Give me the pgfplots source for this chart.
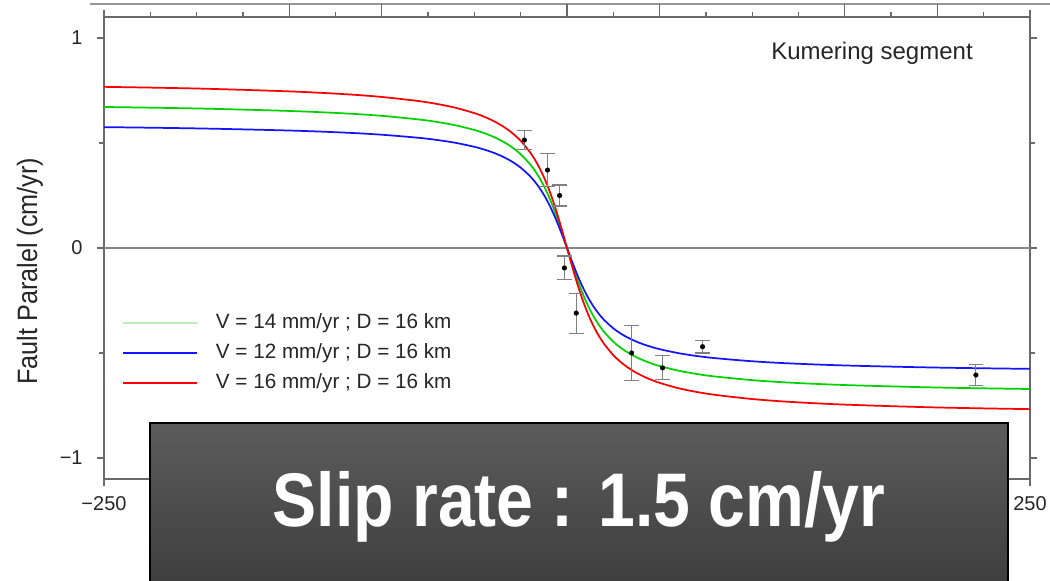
\documentclass[border=0pt]{standalone}
\usepackage{fontspec}
\setmainfont{Liberation Sans}
\usepackage{graphicx}
\usepackage{pgfplots}
\pgfplotsset{compat=1.18}
\usepackage{pgfplotstable}
\definecolor{frame}{RGB}{105,105,105}
\definecolor{cgreen}{RGB}{0,210,0}
\definecolor{cpale}{RGB}{185,240,185}
\definecolor{cblue}{RGB}{20,20,255}
\definecolor{cred}{RGB}{250,0,0}
\definecolor{boxtop}{RGB}{92,92,92}
\definecolor{boxbot}{RGB}{58,58,58}

\pgfplotstableread{
x g b r
-250 0.6715 0.5756 0.7674
-200 0.6644 0.5695 0.7594
-150 0.6526 0.5594 0.7458
-120 0.6409 0.5494 0.7325
-100 0.6293 0.5394 0.7192
-80 0.6120 0.5246 0.6994
-70 0.5999 0.5142 0.6856
-60 0.5839 0.5005 0.6673
-50 0.5620 0.4817 0.6422
-45 0.5478 0.4695 0.6260
-40 0.5305 0.4547 0.6062
-35 0.5089 0.4362 0.5816
-30 0.4817 0.4129 0.5505
-25 0.4463 0.3826 0.5101
-20 0.3994 0.3423 0.4564
-17.5 0.3700 0.3171 0.4228
-15 0.3357 0.2877 0.3836
-12.5 0.2955 0.2533 0.3377
-10 0.2489 0.2134 0.2845
-7.5 0.1954 0.1675 0.2234
-5 0.1350 0.1157 0.1542
-2.5 0.0691 0.0592 0.0790
0 0 0 0
2.5 -0.0691 -0.0592 -0.0790
5 -0.1350 -0.1157 -0.1542
7.5 -0.1954 -0.1675 -0.2234
10 -0.2489 -0.2134 -0.2845
12.5 -0.2955 -0.2533 -0.3377
15 -0.3357 -0.2877 -0.3836
17.5 -0.3700 -0.3171 -0.4228
20 -0.3994 -0.3423 -0.4564
25 -0.4463 -0.3826 -0.5101
30 -0.4817 -0.4129 -0.5505
35 -0.5089 -0.4362 -0.5816
40 -0.5305 -0.4547 -0.6062
45 -0.5478 -0.4695 -0.6260
50 -0.5620 -0.4817 -0.6422
60 -0.5839 -0.5005 -0.6673
70 -0.5999 -0.5142 -0.6856
80 -0.6120 -0.5246 -0.6994
100 -0.6293 -0.5394 -0.7192
120 -0.6409 -0.5494 -0.7325
150 -0.6526 -0.5594 -0.7458
200 -0.6644 -0.5695 -0.7594
250 -0.6715 -0.5756 -0.7674
}\curves

\pgfplotstableread{
x y e
-23 0.514 0.045
-10.5 0.371 0.08
-4 0.25 0.05
-1.4 -0.095 0.057
5 -0.31 0.095
34.9 -0.50 0.13
51.6 -0.571 0.057
73.2 -0.47 0.03
220.8 -0.605 0.05
}\obs

\begin{document}
\begin{tikzpicture}[x=1pt,y=1pt]
\clip (0,0) rectangle (787.5,435.75);
\fill[white] (0,0) rectangle (787.5,435.75);
\draw[frame!70, line width=0.9pt] (67.5,432.75) -- (787.5,432.75);
\foreach \px in {216.9,286.35,425.25,494.7,633.6,703.05}{
  \draw[frame, line width=1pt] (\px,423) -- (\px,432.75);
}
\begin{axis}[
  at={(78pt,76.5pt)}, anchor=south west,
  scale only axis, width=694.5pt, height=346.5pt,
  xmin=-250, xmax=250, ymin=-1.1, ymax=1.1,
  axis line style={draw=frame, line width=1.4pt},
  tick align=outside, tick pos=both,
  major tick length=5.5pt, minor tick length=3.5pt,
  every tick/.style={draw=frame, line width=1pt},
  xtick={-250,250},
  minor xtick={-225,-200,...,225},
  xticklabels={−250,250},
  ytick={-1,0,1}, minor ytick={-0.5,0.5},
  yticklabels={−1,0,1},
  ticklabel style={font=\fontsize{15}{18}\selectfont, text=black!85},
  xticklabel style={yshift=-4pt},
  yticklabel style={xshift=-7pt},
  ylabel={\scalebox{0.9}[1]{Fault Paralel (cm/yr)}},
  every axis y label/.style={at={(rel axis cs:0,0.45)}, xshift=-55.5pt, rotate=90, anchor=center, font=\fontsize{21}{24}\selectfont, text=black!85},
  legend image code/.code={\draw[#1] (0pt,0pt) -- (55.5pt,0pt);},
  legend style={draw=none, fill=none, at={(rel axis cs:0.0205,0.375)}, anchor=north west,
    xshift=-3.75pt, yshift=-3.75pt,
    font=\fontsize{15.5}{18}\selectfont, text=black!85, row sep=8pt,
    nodes={inner sep=0pt, text height=11pt, text depth=3.5pt},
    /tikz/column 2/.style={column sep=0pt}},
  legend cell align=left,
  clip=false,
]
\addplot[frame!80, line width=0.8pt, forget plot] coordinates {(-250,0) (250,0)};
\addplot[cgreen, line width=1.3pt, smooth, forget plot] table[x=x,y=g]{\curves};
\addplot[cblue, line width=1.3pt, smooth, forget plot] table[x=x,y=b]{\curves};
\addplot[cred, line width=1.3pt, smooth, forget plot] table[x=x,y=r]{\curves};
\addplot[only marks, mark=*, mark size=1.7pt, black, forget plot,
  error bars/.cd, y dir=both, y explicit,
  error bar style={gray, line width=0.8pt},
  error mark options={rotate=90, mark size=5.5pt, gray, line width=0.8pt}]
  table[x=x,y=y,y error=e]{\obs};
\addlegendimage{cpale, line width=1.3pt}
\addlegendentry{\hspace{13.5pt}V = 14 mm/yr ; D = 16 km}
\addlegendimage{cblue, line width=1.3pt}
\addlegendentry{\hspace{13.5pt}V = 12 mm/yr ; D = 16 km}
\addlegendimage{cred, line width=1.3pt}
\addlegendentry{\hspace{13.5pt}V = 16 mm/yr ; D = 16 km}
\end{axis}
\node[anchor=base, font=\fontsize{18}{21}\selectfont, text=black!85] at (654,390.75) {Kumering segment};
\shade[top color=boxtop, bottom color=boxbot] (112.5,118.5) rectangle (756,-20);
\draw[black, line width=1.3pt] (112.5,-20) -- (112.5,118.5) -- (756,118.5) -- (756,-20);
\node[anchor=base, white, font=\bfseries\fontsize{57}{60}\selectfont] at (434.25,40.5) {\scalebox{0.87}[1]{Slip rate : 1.5 cm/yr}};
\end{tikzpicture}
\end{document}
